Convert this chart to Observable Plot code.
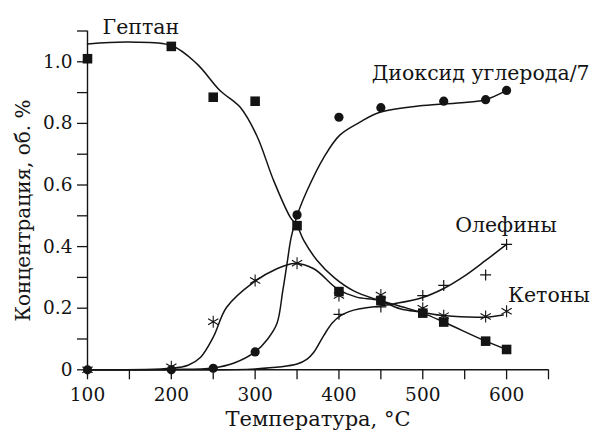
<!DOCTYPE html>
<html><head><meta charset="utf-8">
<script src="https://cdn.jsdelivr.net/npm/d3@7"></script>
<script src="https://cdn.jsdelivr.net/npm/@observablehq/plot@0.6"></script>
<style>body{margin:0;background:#fff}</style>
</head><body><div id="chart"></div>
<script>
// Measured points
const heptaneT = [100,200,250,300,350,400,450,500,525,575,600];
const heptaneV = [1.01,1.05,0.885,0.872,0.468,0.254,0.225,0.184,0.155,0.093,0.066];
const co2T = [100,200,250,300,350,400,450,525,575,600];
const co2V = [0,0,0.005,0.058,0.503,0.82,0.851,0.872,0.877,0.907];
const olefT = [400,450,500,525,575,600];
const olefV = [0.18,0.204,0.241,0.274,0.308,0.407];
const ketT = [100,200,250,300,350,400,450,500,525,575,600];
const ketV = [0,0.01,0.156,0.29,0.346,0.241,0.243,0.2,0.176,0.173,0.19];

// Fitted curves
const heptaneCurveT = [100,150,200,230,258,282,302,322,342,350,358,374,394,417,445,475,500,525,575,600];
const heptaneCurveV = [1.058,1.064,1.053,0.995,0.907,0.853,0.76,0.615,0.495,0.468,0.42,0.355,0.30,0.257,0.228,0.205,0.184,0.155,0.093,0.066];
const co2CurveT = [100,200,250,275,300,315,326,333,338,343,350,362,382,401,425,449,500,550,575,600];
const co2CurveV = [0,0.001,0.006,0.022,0.058,0.1,0.15,0.257,0.344,0.43,0.50,0.582,0.69,0.762,0.804,0.836,0.858,0.868,0.877,0.907];
const olefCurveT = [100,200,300,350,362,370,382,392,402,412,425,449,465,499,525,550,575,600];
const olefCurveV = [0,0,0.003,0.019,0.035,0.057,0.112,0.152,0.176,0.189,0.198,0.207,0.214,0.234,0.264,0.305,0.355,0.407];
const ketCurveT = [100,200,220,235,250,266,298,326,347,370,398,421,447,473,499,525,574,596];
const ketCurveV = [0,0.005,0.015,0.041,0.106,0.203,0.284,0.328,0.345,0.328,0.263,0.236,0.226,0.198,0.187,0.176,0.171,0.178];

// Axes
const xTicks = [100,150,200,250,300,350,400,450,500,550,600,650];
const xTickLabels = ["100","","200","","300","","400","","500","","600",""];
const yTicks = [0,0.1,0.2,0.3,0.4,0.5,0.6,0.7,0.8,0.9,1.0,1.1];
const yTickLabels = ["0","","0.2","","0.4","","0.6","","0.8","","1.0",""];
const xLabel = "Температура, °C";
const yLabel = "Концентрация, об. %";

// Series labels
const seriesNames = ["Гептан","Диоксид углерода/7","Олефины","Кетоны"];
const nameT = [118,439,538.6,601.8];
const nameV = [1.112,0.962,0.468,0.241];

const pts = (T,V) => T.map((t,i)=>({t, v:V[i]}));
const ink = "#141414";

const plusSym = {draw(ctx, size){ const r = Math.sqrt(size/Math.PI); ctx.moveTo(-r,0); ctx.lineTo(r,0); ctx.moveTo(0,-r); ctx.lineTo(0,r);} };

const chart = Plot.plot({
  width: 592, height: 430,
  marginLeft: 87, marginRight: 44, marginTop: 30.5, marginBottom: 60.7,
  x: {domain: [100,650]},
  y: {domain: [0,1.1]},
  style: {fontFamily: "'DejaVu Serif', serif", fontSize: "18px", background: "#fff", color: ink},
  marks: [
    Plot.axisX({ticks: xTicks, tickFormat: (d)=>xTickLabels[xTicks.indexOf(d)], tickSize: 10, tickPadding: 8, label: null, strokeWidth: 1.3, fontSize: 18.5}),
    Plot.axisY({ticks: yTicks, tickFormat: (d)=>yTickLabels[yTicks.findIndex(v=>Math.abs(v-d)<1e-9)], tickSize: 10, tickPadding: 5, label: null, strokeWidth: 1.3, fontSize: 18.5}),
    Plot.ruleY([0], {stroke: ink, strokeWidth: 1.4}),
    Plot.ruleX([100], {stroke: ink, strokeWidth: 1.4}),
    Plot.line(pts(heptaneCurveT, heptaneCurveV), {x:"t", y:"v", curve:"catmull-rom", stroke: ink, strokeWidth: 1.5}),
    Plot.line(pts(co2CurveT, co2CurveV), {x:"t", y:"v", curve:"catmull-rom", stroke: ink, strokeWidth: 1.5}),
    Plot.line(pts(olefCurveT, olefCurveV), {x:"t", y:"v", curve:"catmull-rom", stroke: ink, strokeWidth: 1.5}),
    Plot.line(pts(ketCurveT, ketCurveV), {x:"t", y:"v", curve:"catmull-rom", stroke: ink, strokeWidth: 1.5}),
    Plot.dot(pts(ketT, ketV), {x:"t", y:"v", symbol:"asterisk", r: 5.6, stroke: ink, fill: "none", strokeWidth: 1.1}),
    Plot.dot(pts(olefT, olefV), {x:"t", y:"v", symbol: plusSym, r: 5.5, stroke: ink, fill: "none", strokeWidth: 1.2}),
    Plot.dot(pts(co2T, co2V), {x:"t", y:"v", symbol:"circle", r: 4.6, fill: ink, stroke: "none"}),
    Plot.dot(pts(heptaneT, heptaneV), {x:"t", y:"v", symbol:"square", r: 5.4, fill: ink, stroke: "none"}),
    Plot.text(seriesNames, {x:(d,i)=>nameT[i], y:(d,i)=>nameV[i], text: d=>d, textAnchor:"start", lineAnchor:"middle", fontSize: 20.5, fill: ink}),
    Plot.text([xLabel], {frameAnchor:"bottom", dy: 49, textAnchor:"middle", lineAnchor:"middle", fontSize: 21, fill: ink}),
    Plot.text([yLabel], {frameAnchor:"left", dx: -64, dy: 10, rotate: -90, textAnchor:"middle", lineAnchor:"middle", fontSize: 20, fill: ink})
  ]
});
document.getElementById("chart").appendChild(chart);
</script>
</body></html>
